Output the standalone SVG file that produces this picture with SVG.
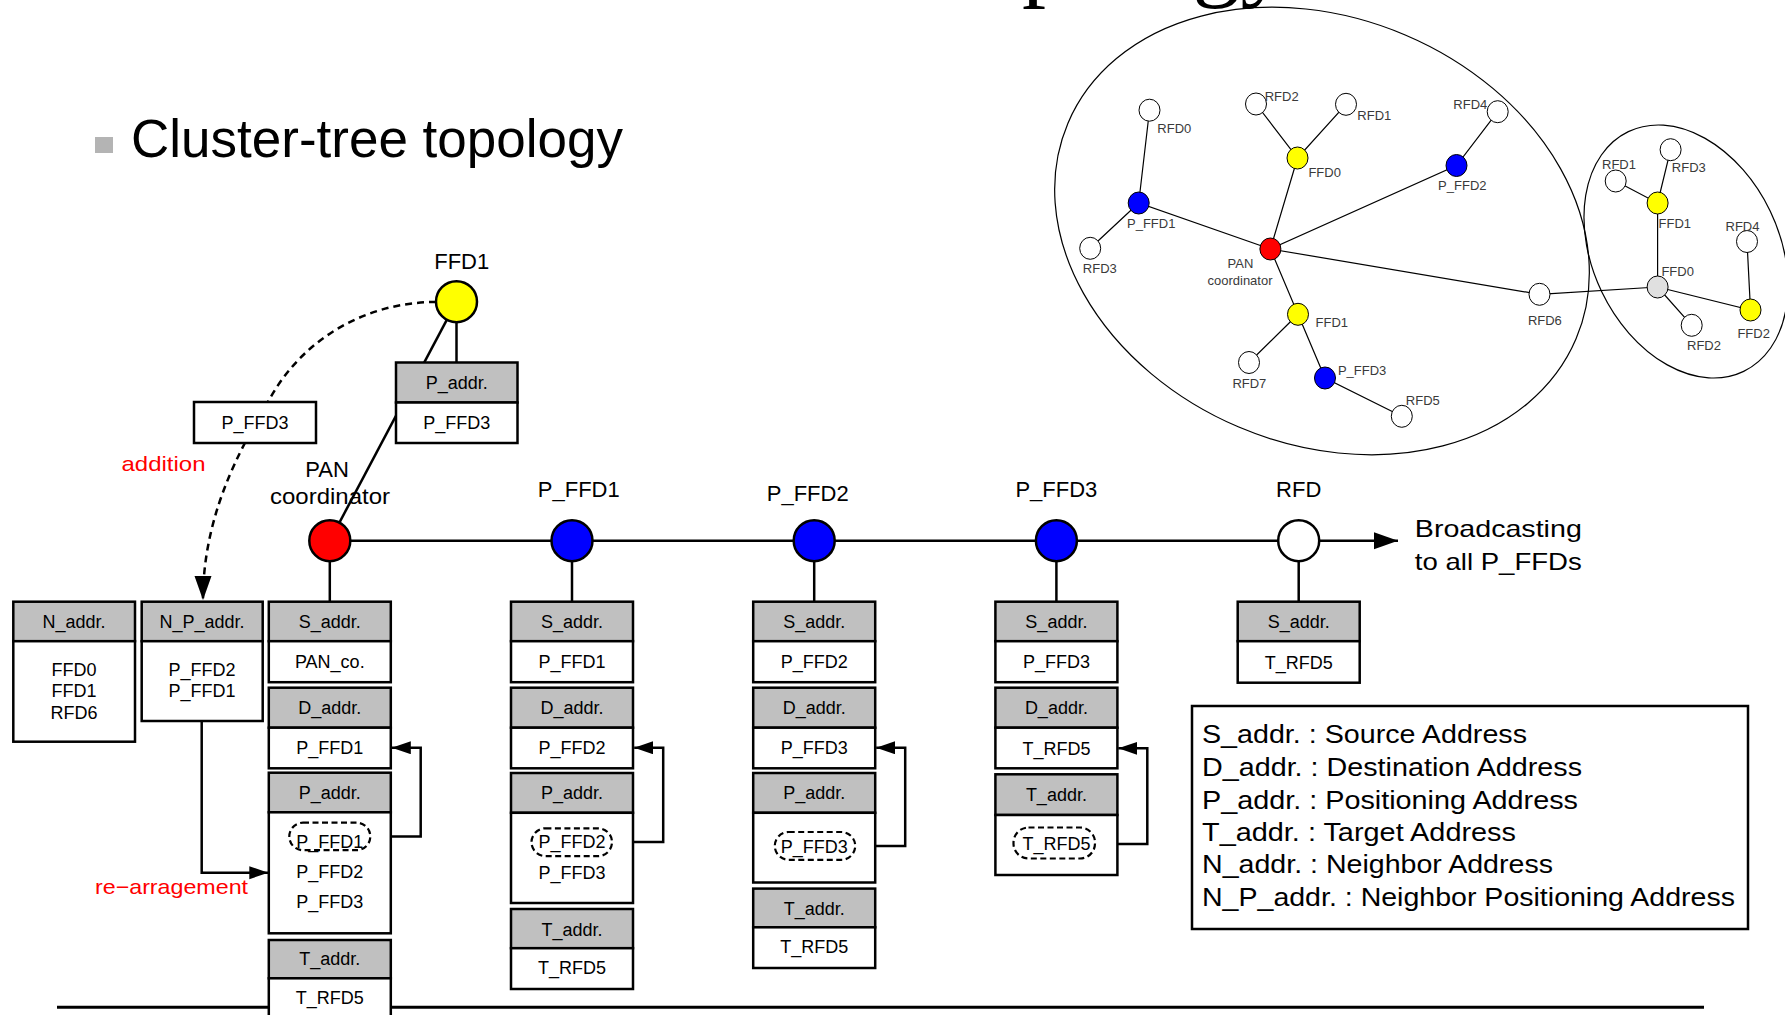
<svg xmlns="http://www.w3.org/2000/svg" width="1785" height="1015" viewBox="0 0 1785 1015">
<defs>
<style>
text{font-family:"Liberation Sans",Arial,sans-serif;fill:#000}
.bt{font-size:18px;text-anchor:middle}
.lbl{font-size:22px;text-anchor:middle}
.hdr{fill:#c0c0c0;stroke:#000;stroke-width:2.5}
.bdy{fill:#fff;stroke:#000;stroke-width:2.5}
.oval{fill:none;stroke:#000;stroke-width:2.2;stroke-dasharray:6 3.5}
.ln{fill:none;stroke:#000;stroke-width:2.5}
.dash{fill:none;stroke:#000;stroke-width:2.5;stroke-dasharray:7 5}
.big{stroke:#000;stroke-width:2.5}
.red{fill:#ff0000;font-size:21px}
.leg{font-size:25px}
.ne{stroke:#000;stroke-width:1.2;fill:none}
.nn{stroke:#000;stroke-width:1}
.nl{font-size:13px;fill:#3a3a3a}
.nlc{font-size:13px;fill:#3a3a3a;text-anchor:middle}
</style>
<marker id="ah" markerUnits="userSpaceOnUse" markerWidth="20" markerHeight="14" refX="19" refY="6.5" orient="auto"><path d="M0,0 L19,6.5 L0,13 z" fill="#000"/></marker>
<marker id="ahL" markerUnits="userSpaceOnUse" markerWidth="25" markerHeight="18" refX="24" refY="8.5" orient="auto"><path d="M0,0 L24,8.5 L0,17 z" fill="#000"/></marker>
</defs>
<rect x="0" y="0" width="1785" height="1015" fill="#fff"/>

<g id="title">
<text x="915.3" y="-11" style="font-family:'Liberation Serif',serif;font-size:96px;font-kerning:none">Topology</text>
<rect x="95" y="137" width="18" height="16" fill="#b4b4b4"/>
<text x="131" y="157" font-size="54" textLength="492" lengthAdjust="spacingAndGlyphs">Cluster-tree topology</text>
</g>

<line x1="57" y1="1007.3" x2="1704" y2="1007.3" stroke="#000" stroke-width="3"/>

<g id="connectors">
<path class="ln" d="M446.8,319.8 L339.4,522.6"/>
<path class="ln" d="M456.5,322.2 V362.5"/>
<path class="dash" d="M436,302 C370,302 305,335 269,400 C250,434 203,505 203,600" marker-end="url(#ahL)"/>
<path class="ln" d="M350,540.7 H1398" stroke-width="3" marker-end="url(#ahL)"/>
<path class="ln" d="M329.8,561 V601.7"/>
<path class="ln" d="M572,561 V601.7"/>
<path class="ln" d="M814.2,561 V601.7"/>
<path class="ln" d="M1056.4,561 V601.7"/>
<path class="ln" d="M1298.7,561 V601.7"/>
<path class="ln" d="M370.3,836.4 H420.7 V747.7 H391.8" marker-end="url(#ah)"/>
<path class="ln" d="M612,842 H663.2 V747.8 H634.2" marker-end="url(#ah)"/>
<path class="ln" d="M855.2,846 H905.2 V747.8 H876.2" marker-end="url(#ah)"/>
<path class="ln" d="M1095,844 H1147.3 V748.3 H1118.3" marker-end="url(#ah)"/>
<path class="ln" d="M201.7,721 V872.7 H268.3" marker-end="url(#ah)"/>
</g>

<g id="ffd1">
<text class="lbl" x="461.7" y="269">FFD1</text>
<circle class="big" cx="456.5" cy="301.7" r="20.5" fill="#ffff00"/>
<rect class="hdr" x="396" y="362.5" width="121.5" height="40"/>
<rect class="bdy" x="396" y="402.5" width="121.5" height="40.5"/>
<text class="bt" x="456.8" y="388.9">P_addr.</text>
<text class="bt" x="456.8" y="429.4">P_FFD3</text>
</g>

<g id="addition">
<rect class="bdy" x="194" y="402" width="122" height="41"/>
<text class="bt" x="255" y="429.4">P_FFD3</text>
<text class="red" x="163.5" y="470.5" text-anchor="middle" textLength="84" lengthAdjust="spacingAndGlyphs">addition</text>
</g>

<g id="n-addr">
<rect class="hdr" x="13.3" y="601.7" width="121.7" height="39.5"/>
<rect class="bdy" x="13.3" y="641.2" width="121.7" height="100.5"/>
<text class="bt" x="74" y="628">N_addr.</text>
<text class="bt" x="74" y="675.6">FFD0</text>
<text class="bt" x="74" y="697.3">FFD1</text>
<text class="bt" x="74" y="718.6">RFD6</text>
</g>

<g id="n-p-addr">
<rect class="hdr" x="141.7" y="601.7" width="121" height="39.5"/>
<rect class="bdy" x="141.7" y="641.2" width="121" height="79.8"/>
<text class="bt" x="202" y="628">N_P_addr.</text>
<text class="bt" x="202" y="675.6">P_FFD2</text>
<text class="bt" x="202" y="697.3">P_FFD1</text>
<text class="red" x="171.5" y="894" text-anchor="middle" textLength="153" lengthAdjust="spacingAndGlyphs">re−arragement</text>
</g>

<g id="pan-coordinator">
<text class="lbl" x="327" y="477.3">PAN</text>
<text class="lbl" x="330" y="504" textLength="120" lengthAdjust="spacingAndGlyphs">coordinator</text>
<circle class="big" cx="329.8" cy="540.7" r="20.5" fill="#ff0000"/>
<rect class="hdr" x="268.8" y="601.7" width="122" height="39.5"/>
<rect class="bdy" x="268.8" y="641.2" width="122" height="41"/>
<text class="bt" x="329.8" y="628">S_addr.</text>
<text class="bt" x="329.8" y="668">PAN_co.</text>
<rect class="hdr" x="268.8" y="687.7" width="122" height="40"/>
<rect class="bdy" x="268.8" y="727.7" width="122" height="40.6"/>
<text class="bt" x="329.8" y="714">D_addr.</text>
<text class="bt" x="329.8" y="754">P_FFD1</text>
<rect class="hdr" x="268.8" y="772.7" width="122" height="39.6"/>
<rect class="bdy" x="268.8" y="812.3" width="122" height="121"/>
<text class="bt" x="329.8" y="798.8">P_addr.</text>
<rect class="oval" x="289.3" y="822.7" width="81" height="27.5" rx="13.7"/>
<text class="bt" x="329.8" y="848.3">P_FFD1</text>
<text class="bt" x="329.8" y="878">P_FFD2</text>
<text class="bt" x="329.8" y="908">P_FFD3</text>
<rect class="hdr" x="268.8" y="940" width="122" height="38.3"/>
<rect class="bdy" x="268.8" y="978.3" width="122" height="45"/>
<text class="bt" x="329.8" y="965.3">T_addr.</text>
<text class="bt" x="329.8" y="1003.6">T_RFD5</text>
</g>

<g id="p-ffd1">
<text class="lbl" x="578.8" y="496.7">P_FFD1</text>
<circle class="big" cx="572" cy="540.7" r="20.5" fill="#0000ff"/>
<rect class="hdr" x="511" y="601.7" width="122" height="39.5"/>
<rect class="bdy" x="511" y="641.2" width="122" height="41"/>
<text class="bt" x="572" y="628">S_addr.</text>
<text class="bt" x="572" y="668">P_FFD1</text>
<rect class="hdr" x="511" y="687.7" width="122" height="40"/>
<rect class="bdy" x="511" y="727.7" width="122" height="40.6"/>
<text class="bt" x="572" y="714">D_addr.</text>
<text class="bt" x="572" y="754">P_FFD2</text>
<rect class="hdr" x="511" y="773" width="122" height="39.8"/>
<rect class="bdy" x="511" y="812.8" width="122" height="90.2"/>
<text class="bt" x="572" y="798.8">P_addr.</text>
<rect class="oval" x="531.5" y="828.3" width="80.5" height="27.8" rx="13.9"/>
<text class="bt" x="572" y="848">P_FFD2</text>
<text class="bt" x="572" y="878.7">P_FFD3</text>
<rect class="hdr" x="511" y="909" width="122" height="39.2"/>
<rect class="bdy" x="511" y="948.2" width="122" height="40.8"/>
<text class="bt" x="572" y="935.8">T_addr.</text>
<text class="bt" x="572" y="974.3">T_RFD5</text>
</g>

<g id="p-ffd2">
<text class="lbl" x="807.7" y="501">P_FFD2</text>
<circle class="big" cx="814.2" cy="540.7" r="20.5" fill="#0000ff"/>
<rect class="hdr" x="753.2" y="601.7" width="122" height="39.5"/>
<rect class="bdy" x="753.2" y="641.2" width="122" height="41"/>
<text class="bt" x="814.2" y="628">S_addr.</text>
<text class="bt" x="814.2" y="668">P_FFD2</text>
<rect class="hdr" x="753.2" y="687.7" width="122" height="40"/>
<rect class="bdy" x="753.2" y="727.7" width="122" height="40.6"/>
<text class="bt" x="814.2" y="714">D_addr.</text>
<text class="bt" x="814.2" y="754">P_FFD3</text>
<rect class="hdr" x="753.2" y="773" width="122" height="39.8"/>
<rect class="bdy" x="753.2" y="812.8" width="122" height="69.7"/>
<text class="bt" x="814.2" y="798.8">P_addr.</text>
<rect class="oval" x="774.8" y="832" width="80.4" height="27.8" rx="13.9"/>
<text class="bt" x="814.2" y="853.3">P_FFD3</text>
<rect class="hdr" x="753.2" y="888.6" width="122" height="38.7"/>
<rect class="bdy" x="753.2" y="927.3" width="122" height="40.7"/>
<text class="bt" x="814.2" y="914.8">T_addr.</text>
<text class="bt" x="814.2" y="952.7">T_RFD5</text>
</g>

<g id="p-ffd3">
<text class="lbl" x="1056.4" y="496.7">P_FFD3</text>
<circle class="big" cx="1056.4" cy="540.7" r="20.5" fill="#0000ff"/>
<rect class="hdr" x="995.4" y="601.7" width="122" height="39.5"/>
<rect class="bdy" x="995.4" y="641.2" width="122" height="41"/>
<text class="bt" x="1056.4" y="628">S_addr.</text>
<text class="bt" x="1056.4" y="668">P_FFD3</text>
<rect class="hdr" x="995.4" y="687.7" width="122" height="40"/>
<rect class="bdy" x="995.4" y="727.7" width="122" height="40.6"/>
<text class="bt" x="1056.4" y="714">D_addr.</text>
<text class="bt" x="1056.4" y="754.6">T_RFD5</text>
<rect class="hdr" x="995.4" y="774.3" width="122" height="40.7"/>
<rect class="bdy" x="995.4" y="815" width="122" height="60"/>
<text class="bt" x="1056.4" y="801.3">T_addr.</text>
<rect class="oval" x="1013.5" y="827.5" width="81.5" height="31" rx="15"/>
<text class="bt" x="1056.4" y="849.6">T_RFD5</text>
</g>

<g id="rfd">
<text class="lbl" x="1298.7" y="496.7">RFD</text>
<circle class="big" cx="1298.7" cy="540.7" r="20.5" fill="#fff"/>
<rect class="hdr" x="1237.7" y="601.7" width="122" height="39.5"/>
<rect class="bdy" x="1237.7" y="641.2" width="122" height="41.5"/>
<text class="bt" x="1298.7" y="628">S_addr.</text>
<text class="bt" x="1298.7" y="669">T_RFD5</text>
<text x="1414.8" y="537" font-size="24" textLength="167" lengthAdjust="spacingAndGlyphs">Broadcasting</text>
<text x="1414.8" y="569.6" font-size="24" textLength="167" lengthAdjust="spacingAndGlyphs">to all P_FFDs</text>
</g>

<g id="legend">
<rect x="1192" y="706" width="556" height="223" fill="#fff" stroke="#000" stroke-width="2.5"/>
<text class="leg" x="1202" y="743.4" textLength="325" lengthAdjust="spacingAndGlyphs">S_addr. : Source Address</text>
<text class="leg" x="1202" y="776" textLength="380" lengthAdjust="spacingAndGlyphs">D_addr. : Destination Address</text>
<text class="leg" x="1202" y="808.6" textLength="376" lengthAdjust="spacingAndGlyphs">P_addr. : Positioning Address</text>
<text class="leg" x="1202" y="841.2" textLength="314" lengthAdjust="spacingAndGlyphs">T_addr. : Target Address</text>
<text class="leg" x="1202" y="873.1" textLength="351" lengthAdjust="spacingAndGlyphs">N_addr. : Neighbor Address</text>
<text class="leg" x="1202" y="905.7" textLength="533" lengthAdjust="spacingAndGlyphs">N_P_addr. : Neighbor Positioning Address</text>
</g>

<g id="network">
<ellipse class="ne" cx="1322" cy="231" rx="276" ry="213" transform="rotate(23 1322 231)"/>
<ellipse class="ne" cx="1686" cy="251.5" rx="133" ry="93.4" transform="rotate(64.3 1686 251.5)"/>
<g id="network-edges">
<path class="ne" d="M1149.5,110.2 L1138.7,203 M1090.2,248.3 L1138.7,203 L1270.4,249 M1256,104 L1297.5,158 L1346,104.3 M1297.5,158 L1270.4,249 M1497.7,111.7 L1456.5,165.5 L1270.4,249 L1539.5,294.3 L1657.6,287 M1270.4,249 L1298,314.3 L1249,362.5 M1298,314.3 L1325,378 L1401.8,416.3 M1657.6,287 L1657.6,203 L1615.7,181 M1657.6,203 L1670.6,149.7 M1657.6,287 L1691.7,325.3 M1657.6,287 L1750.5,310 L1747,241.5"/>
</g>
<g id="m-rfd0"><ellipse class="nn" cx="1149.5" cy="110.2" rx="10.5" ry="11" fill="#fff"/><text class="nl" x="1157.3" y="133.3">RFD0</text></g>
<g id="m-rfd2"><ellipse class="nn" cx="1256" cy="104" rx="10.5" ry="11" fill="#fff"/><text class="nl" x="1264.7" y="101">RFD2</text></g>
<g id="m-rfd1"><ellipse class="nn" cx="1346" cy="104.3" rx="10.5" ry="11" fill="#fff"/><text class="nl" x="1357.3" y="120">RFD1</text></g>
<g id="m-rfd4"><ellipse class="nn" cx="1497.7" cy="111.7" rx="10.5" ry="11" fill="#fff"/><text class="nl" x="1453.3" y="109.3">RFD4</text></g>
<g id="m-ffd0"><ellipse class="nn" cx="1297.5" cy="158" rx="10.5" ry="11" fill="#ffff00"/><text class="nl" x="1308.4" y="177.3">FFD0</text></g>
<g id="m-pffd2"><ellipse class="nn" cx="1456.5" cy="165.5" rx="10.5" ry="11" fill="#0000ff"/><text class="nl" x="1438.1" y="190">P_FFD2</text></g>
<g id="m-pffd1"><ellipse class="nn" cx="1138.7" cy="203" rx="10.5" ry="11" fill="#0000ff"/><text class="nl" x="1127" y="227.7">P_FFD1</text></g>
<g id="m-rfd3"><ellipse class="nn" cx="1090.2" cy="248.3" rx="10.5" ry="11" fill="#fff"/><text class="nl" x="1082.8" y="273.3">RFD3</text></g>
<g id="m-pan"><ellipse class="nn" cx="1270.4" cy="249" rx="10.5" ry="11" fill="#ff0000"/><text class="nlc" x="1240.5" y="268.3">PAN</text><text class="nlc" x="1240" y="285">coordinator</text></g>
<g id="m-ffd1"><ellipse class="nn" cx="1298" cy="314.3" rx="10.5" ry="11" fill="#ffff00"/><text class="nl" x="1315.5" y="326.7">FFD1</text></g>
<g id="m-rfd7"><ellipse class="nn" cx="1249" cy="362.5" rx="10.5" ry="11" fill="#fff"/><text class="nl" x="1232.4" y="388.3">RFD7</text></g>
<g id="m-pffd3"><ellipse class="nn" cx="1325" cy="378" rx="10.5" ry="11" fill="#0000ff"/><text class="nl" x="1337.9" y="375">P_FFD3</text></g>
<g id="m-rfd5"><ellipse class="nn" cx="1401.8" cy="416.3" rx="10.5" ry="11" fill="#fff"/><text class="nl" x="1405.8" y="405">RFD5</text></g>
<g id="m-rfd6"><ellipse class="nn" cx="1539.5" cy="294.3" rx="10.5" ry="11" fill="#fff"/><text class="nl" x="1527.9" y="325">RFD6</text></g>
<g id="c2-ffd0"><ellipse class="nn" cx="1657.6" cy="287" rx="10.5" ry="11" fill="#e0e0e0"/><text class="nl" x="1661.4" y="276">FFD0</text></g>
<g id="c2-ffd1"><ellipse class="nn" cx="1657.6" cy="203" rx="10.5" ry="11" fill="#ffff00"/><text class="nl" x="1658.5" y="227.7">FFD1</text></g>
<g id="c2-rfd1"><ellipse class="nn" cx="1615.7" cy="181" rx="10.5" ry="11" fill="#fff"/><text class="nl" x="1602" y="169.3">RFD1</text></g>
<g id="c2-rfd3"><ellipse class="nn" cx="1670.6" cy="149.7" rx="10.5" ry="11" fill="#fff"/><text class="nl" x="1671.8" y="172.3">RFD3</text></g>
<g id="c2-rfd4"><ellipse class="nn" cx="1747" cy="241.5" rx="10.5" ry="11" fill="#fff"/><text class="nl" x="1725.5" y="231">RFD4</text></g>
<g id="c2-ffd2"><ellipse class="nn" cx="1750.5" cy="310" rx="10.5" ry="11" fill="#ffff00"/><text class="nl" x="1737.4" y="337.7">FFD2</text></g>
<g id="c2-rfd2"><ellipse class="nn" cx="1691.7" cy="325.3" rx="10.5" ry="11" fill="#fff"/><text class="nl" x="1687" y="350">RFD2</text></g>
</g>
</svg>
